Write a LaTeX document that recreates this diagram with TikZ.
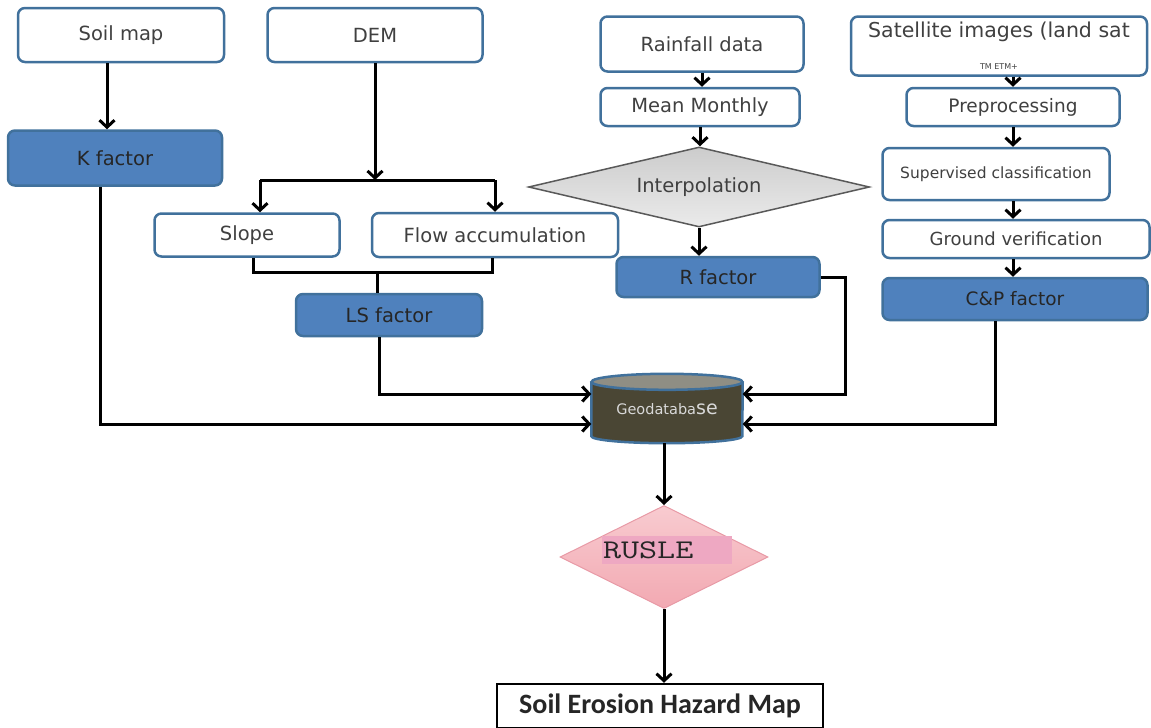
\documentclass[tikz,border=0pt]{standalone}
\usepackage{fontspec}
\setmainfont{DejaVu Sans}
\newfontfamily\mapfont{Carlito}
\usetikzlibrary{positioning,shapes.geometric,arrows.meta}
\definecolor{boxline}{HTML}{41719C}
\definecolor{factorfill}{HTML}{4F81BD}
\definecolor{txtgray}{HTML}{404040}
\definecolor{geobody}{HTML}{4A4634}
\definecolor{geotop}{HTML}{8F8E84}
\definecolor{rusleline}{HTML}{E89AA6}
\definecolor{rusletop}{HTML}{F8CBD0}
\definecolor{ruslebot}{HTML}{F2A9B2}
\definecolor{ruslehl}{HTML}{EEA8C2}
\tikzstyle{squared} = [rectangle, rounded corners=7pt, line width=2.5pt, draw=boxline, fill=white, text=txtgray, inner sep=0pt, font=\fontsize{19.5}{22}\selectfont]
\tikzstyle{factor} = [squared, fill=factorfill, text=black!85]
\tikzstyle{decision} = [diamond, aspect=4.26, inner sep=0pt, line width=1.5pt, draw=black!65, top color=black!20, bottom color=black!8, text=txtgray, font=\fontsize{19.5}{22}\selectfont]
\tikzstyle{connect} = [line width=3pt, -{Straight Barb[length=7pt,width=15pt]}]
\tikzstyle{plain} = [line width=3pt]

\begin{document}
\begin{tikzpicture}[x=1pt,y=-1pt]
\useasboundingbox (0,0) rectangle (1151,728);
			\node (soil) [squared, minimum width=206pt, minimum height=54pt] at (121,35) {Soil map};
			\node (dem) [squared, minimum width=215pt, minimum height=54pt] at (375,35) {DEM};
			\node (rain) [squared, minimum width=203pt, minimum height=55pt] at (702,44) {Rainfall data};
			\node (sat) [squared, minimum width=296pt, minimum height=59pt, align=center, font=\fontsize{20.5}{23}\selectfont] at (999,46) {Satellite images (land sat\\[9pt]{\fontsize{8}{8}\selectfont TM ETM+}};
			%-----------------------------------------------
			\node (kfac) [factor, minimum width=214pt, minimum height=55pt] at (115,158) {K factor};
			\node (mean) [squared, minimum width=199pt, minimum height=38pt] at (700,107) {Mean Monthly};
			\node (prep) [squared, minimum width=213pt, minimum height=38pt, font=\fontsize{18.5}{21}\selectfont] at (1013,107) {Preprocessing};
			\node (interp) [decision, minimum width=341pt, minimum height=80pt] at (699,187) {Interpolation};
			\node (sup) [squared, minimum width=227pt, minimum height=52pt, font=\fontsize{15.5}{18}\selectfont] at (996,174) {Supervised classification};
			\node (ground) [squared, minimum width=267pt, minimum height=38pt, font=\fontsize{18}{21}\selectfont] at (1016,239) {Ground verification};
			\node (cp) [factor, minimum width=265pt, minimum height=42pt, font=\fontsize{18.5}{21}\selectfont] at (1015,299) {C\&P factor};
			%-----------------------------------------------
			\node (slope) [squared, minimum width=185pt, minimum height=43pt] at (247,235) {Slope};
			\node (flow) [squared, minimum width=246pt, minimum height=44pt] at (495,235) {Flow accumulation};
			\node (rfac) [factor, minimum width=203pt, minimum height=40pt] at (718,277) {R factor};
			\node (ls) [factor, minimum width=186pt, minimum height=42pt] at (389,315) {LS factor};
			%-----------------------------------------------
			\node (geo) [rectangle, fill=geobody, minimum width=151pt, minimum height=54pt, inner sep=0pt, text=white!85!black, font=\fontsize{14.5}{16}\selectfont] at (667,409) {Geodataba{\fontsize{19}{19}\selectfont se}};
			\fill [geobody] (geo.south west) arc[start angle=180, end angle=360, x radius=75.5pt, y radius=7pt] -- cycle;
			\draw [boxline, line width=2.5pt] (geo.north west) -- (geo.south west) arc[start angle=180, end angle=360, x radius=75.5pt, y radius=7pt] -- (geo.north east);
			\filldraw [fill=geotop, draw=boxline, line width=2.5pt] (geo.north) ellipse[x radius=75.5pt, y radius=8pt];
			%-----------------------------------------------
			\node (rusle) [diamond, aspect=2, inner sep=0pt, minimum width=208pt, minimum height=103pt, draw=rusleline, line width=1pt, top color=rusletop, bottom color=ruslebot] at (664,557) {};
			\node (rusletext) [fill=ruslehl, inner sep=0pt, minimum width=130pt, minimum height=28pt, text width=130pt, font=\ttfamily\fontsize{27}{27}\selectfont, text=black!85] at (667,550) {\hspace{1pt}\scalebox{1.3}[1]{RUSLE}};
			\node (map) [rectangle, draw=black, line width=2.5pt, fill=white, minimum width=326pt, minimum height=44pt, font=\mapfont\bfseries\fontsize{28}{30}\selectfont, text=black!85] at (660,706) {Soil Erosion Hazard Map};
			%-----------------------------------------------
			\coordinate (split) at (375,180);
			\coordinate (join) at (377,272);
			\coordinate (rturn) at (845,394);
			%-----------------------------------------------
			\draw [connect] ([xshift=-14pt]soil.south) -- ([xshift=-14pt]soil.south |- kfac.north);
			\draw [connect] ([xshift=-15pt]kfac.south) |- ([yshift=-15pt]geo.west);
			\draw [connect] (dem.south) -- (split);
			\draw [plain] ([xshift=13pt]slope.north |- split) -- (flow.north |- split);
			\draw [connect] ([xshift=13pt]slope.north |- split) -- ([xshift=13pt]slope.north);
			\draw [connect] (flow.north |- split) -- (flow.north);
			\draw [plain] ([xshift=6pt]slope.south) |- ([xshift=-3pt]flow.south |- join) -- ([xshift=-3pt]flow.south);
			\draw [plain] (join) -- (join |- ls.north);
			\draw [connect] ([xshift=-10pt]ls.south) |- ([yshift=15pt]geo.west);
			\draw [connect] (rfac.east) -| (rturn) -- ([yshift=15pt]geo.east);
			\draw [connect] ([xshift=-20pt]cp.south) |- ([yshift=-15pt]geo.east);
			\draw [connect] (rain.south) -- (rain.south |- mean.north);
			\draw [connect] (mean.south) -- (mean.south |- interp.north);
			\draw [connect] (interp.south) -- (interp.south |- rfac.north);
			\draw [connect] (prep.north |- sat.south) -- (prep.north);
			\draw [connect] (prep.south) -- (prep.south |- sup.north);
			\draw [connect] (prep.south |- sup.south) -- (prep.south |- ground.north);
			\draw [connect] (prep.south |- ground.south) -- (prep.south |- cp.north);
			\draw [connect] ([yshift=-7pt]rusle.north |- geo.south) -- (rusle.north);
			\draw [connect] (rusle.south) -- (rusle.south |- map.north);
\end{tikzpicture}
\end{document}
